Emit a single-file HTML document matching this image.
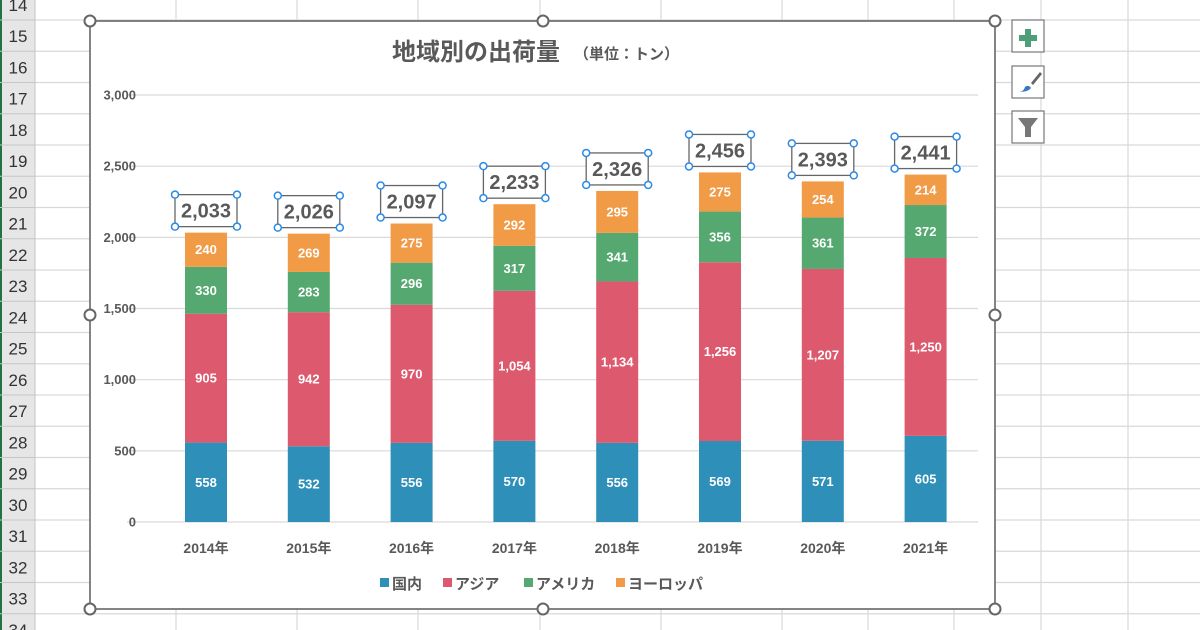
<!DOCTYPE html>
<html><head><meta charset="utf-8"><style>
body{margin:0;width:1200px;height:630px;overflow:hidden;background:#fff}
svg{display:block}
text{font-family:"Liberation Sans","Noto Sans CJK JP",sans-serif}
</style></head><body>
<svg width="1200" height="630" xmlns="http://www.w3.org/2000/svg">
<rect width="1200" height="630" fill="#fff"/>
<g id="grid" stroke="#d9d9d9" stroke-width="1.2"></g>
<rect x="0" y="0" width="35" height="630" fill="#e6e6e6"/>
<line x1="1" y1="0" x2="1" y2="630" stroke="#217346" stroke-width="2"/>
<line x1="35" y1="0" x2="35" y2="630" stroke="#c6c6c6"/>
<g id="rows" font-size="17" fill="#333" text-anchor="middle"></g>
<rect x="90" y="21" width="905" height="588" fill="#fff" stroke="#666" stroke-width="1.6"/>
<text x="392" y="60" font-size="24" font-weight="bold" fill="#595959">地域別の出荷量</text>
<text x="574" y="59" font-size="15" font-weight="bold" fill="#595959">（単位：トン）</text>
<g id="plot"></g>
<g font-size="15" font-weight="bold" fill="#595959">
<rect x="380" y="578" width="9" height="9" fill="#2e8fb8"/><text x="392" y="589">国内</text>
<rect x="443" y="578" width="9" height="9" fill="#dd5a6e"/><text x="455" y="589">アジア</text>
<rect x="524" y="578" width="9" height="9" fill="#55a870"/><text x="536" y="589">アメリカ</text>
<rect x="616" y="578" width="9" height="9" fill="#f29b47"/><text x="628" y="589">ヨーロッパ</text>
</g>
<g id="handles" fill="#fff" stroke="#666" stroke-width="2"></g>
<g fill="#fff" stroke="#777" stroke-width="1.2">
<rect x="1012" y="20" width="32" height="32"/><rect x="1012" y="66" width="32" height="32"/><rect x="1012" y="111" width="32" height="32"/>
</g>
<path d="M1025 29h6v6h6v6h-6v6h-6v-6h-6v-6h6z" fill="#4f9e7a"/>
<path d="M1040 72l-9 11 2 2 9-11z" fill="#666"/><path d="M1019 92c3 0 5-2 6-5 2-2 5-1 6 1-2 3-7 4-12 4z" fill="#3b78c2"/>
<path d="M1018 118h20l-7 9v10h-6v-10z" fill="#777"/>
</svg>
<script>
const ns="http://www.w3.org/2000/svg";
function el(p,t,a,txt){const e=document.createElementNS(ns,t);for(const k in a)e.setAttribute(k,a[k]);if(txt!==undefined)e.textContent=txt;document.getElementById(p).appendChild(e);return e;}
[176,297,418,540,661,782,868,954,1041,1128].forEach(x=>el('grid','line',{x1:x,y1:0,x2:x,y2:630}));
for(let i=0;i<21;i++){const y=20+31.25*(i-1);el('grid','line',{x1:35,y1:y,x2:1200,y2:y});
 el('rows','line',{x1:0,y1:y,x2:35,y2:y,stroke:'#c6c6c6'});
 el('rows','text',{x:18,y:y+22},String(14+i));}
const y0=522,k=0.14233;
for(let v=0;v<=3000;v+=500){const y=y0-v*k;el('plot','line',{x1:127,y1:y,x2:978,y2:y,stroke:'#d9d9d9','stroke-width':1.2});
 el('plot','text',{x:136,y:y+4.5,'font-size':13,'font-weight':'bold',fill:'#595959','text-anchor':'end'},v.toLocaleString('en-US'));}
const d=[[558,905,330,240],[532,942,283,269],[556,970,296,275],[570,1054,317,292],[556,1134,341,295],[569,1256,356,275],[571,1207,361,254],[605,1250,372,214]];
const c=['#2e8fb8','#dd5a6e','#55a870','#f29b47'];
d.forEach((s,i)=>{const cx=206+102.8*i;let acc=0;
 s.forEach((v,j)=>{const yt=y0-(acc+v)*k,yb=y0-acc*k;el('plot','rect',{x:cx-21,y:yt,width:42,height:yb-yt,fill:c[j]});
  el('plot','text',{x:cx,y:(yt+yb)/2+4.5,'font-size':13,'font-weight':'bold',fill:'#fff','text-anchor':'middle'},v.toLocaleString('en-US'));acc+=v;});
 const top=y0-acc*k,bb=top-6,bt=bb-32;
 el('plot','rect',{x:cx-31,y:bt,width:62,height:32,fill:'#fff',stroke:'#666','stroke-width':1.3});
 el('plot','text',{x:cx,y:bb-9,'font-size':20,'font-weight':'bold',fill:'#595959','text-anchor':'middle'},acc.toLocaleString('en-US'));
 [[cx-31,bt],[cx+31,bt],[cx-31,bb],[cx+31,bb]].forEach(p=>el('plot','circle',{cx:p[0],cy:p[1],r:3.5,fill:'#fff',stroke:'#2b8ae6','stroke-width':1.5}));
 el('plot','text',{x:cx,y:553,'font-size':14,'font-weight':'bold',fill:'#595959','text-anchor':'middle'},(2014+i)+'年');});
[[90,21],[543,21],[995,21],[90,315],[995,315],[90,609],[543,609],[995,609]].forEach(p=>el('handles','circle',{cx:p[0],cy:p[1],r:5.5}));
</script>
</body></html>
